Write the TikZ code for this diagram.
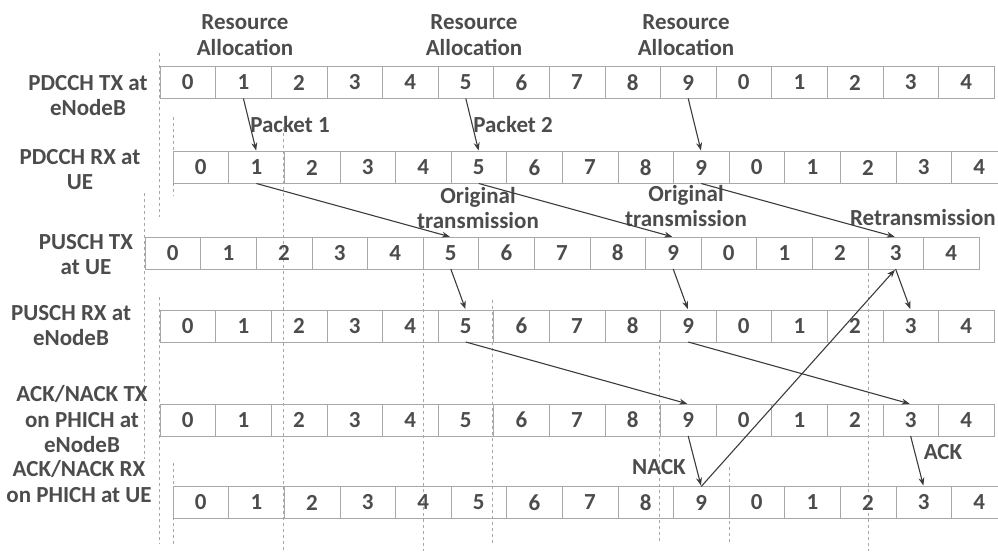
\documentclass[tikz,border=0pt]{standalone}
\usepackage{fontspec}
\setmainfont{Carlito}[Numbers=Lining]
\usetikzlibrary{arrows.meta,positioning}

\definecolor{txt}{HTML}{4C4C4C}
\definecolor{rulec}{HTML}{A8A8A8}
\definecolor{arrowc}{HTML}{3C3C3C}

\begin{document}
\begin{tikzpicture}[x=1pt,y=-1pt,->,>={Stealth[length=8pt,width=6pt]},shorten >=1pt,auto,semithick,
    font=\fontsize{23}{25.5}\selectfont\bfseries,text=txt]
	\tikzstyle{cell}=[draw=rulec,thin,minimum width=55.6pt,minimum height=32pt,inner sep=0pt,outer sep=0pt]
	\tikzstyle{lbl}=[align=center,inner sep=0pt]
	\tikzstyle{guide}=[-,draw=rulec,thin,dash pattern=on 3pt off 3pt]
	\tikzstyle{every edge}=[draw,arrowc,line width=1.1pt]

	\useasboundingbox (0,0) rectangle (998,552);
	\clip (0,0) rectangle (998,552);

	% dashed guides
	\foreach \gx/\ga/\gb in {159/53/218, 173/117/197, 144/193/460, 159/297/545, 173/463/545,
	    283/127/552, 423/237/552, 492/300/547, 659/340/545, 729/467/545, 868/237/552}
		\draw[guide] (\gx,\ga) -- (\gx,\gb);

	% subframe rows
	\foreach \row/\x/\y in {pdtx/160/82.5, pdrx/173/167.5, putx/145/253,
	    purx/160/326, hitx/160/420, hirx/173/502.5} {
		\node[cell] (\row-0) at (\x+27.8,\y) {0};
		\foreach \i [remember=\i as \k (initially 0)] in {1,...,14} {
			\pgfmathtruncatemacro{\j}{mod(\i,10)}
			\node[cell] (\row-\i) [right = 0pt of \row-\k] {\j};
		}
	}

	% row names
	\node[lbl] (n-pdtx) at (88,95.5) {PDCCH TX at\\eNodeB};
	\node[lbl] (n-pdrx) at (80,169.5) {PDCCH RX at\\UE};
	\node[lbl] (n-putx) at (86,254.5) {PUSCH TX\\at UE};
	\node[lbl] (n-purx) at (71,325.5) {PUSCH RX at\\eNodeB};
	\node[lbl] (n-hitx) at (82,419.5) {ACK/NACK TX\\on PHICH at\\eNodeB};
	\node[lbl] (n-hirx) at (79,481.5) {ACK/NACK RX\\on PHICH at UE};

	% annotations
	\node[lbl] (ra1) at (245,35) {Resource\\Allocation};
	\node[lbl] (ra2) at (474,35) {Resource\\Allocation};
	\node[lbl] (ra3) at (686,35) {Resource\\Allocation};
	\node[lbl,anchor=west] (pk1) at (250,125) {Packet 1};
	\node[lbl,anchor=west] (pk2) at (473,125) {Packet 2};
	\node[lbl] (ot1) at (478,208) {Original\\transmission};
	\node[lbl] (ot2) at (686,206) {Original\\transmission};
	\node[lbl,anchor=east] (rt) at (996,218) {Retransmission};
	\node[lbl] (nack) at (659,467) {NACK};
	\node[lbl] (ack) at (943,452) {ACK};

	\path (pdtx-1.south) edge (pdrx-1.north);
	\path (pdtx-5.south) edge (pdrx-5.north);
	\path (pdtx-9.south) edge (pdrx-9.north);
	\path (pdrx-1.south) edge (putx-5.north);
	\path (pdrx-5.south) edge (putx-9.north);
	\path (pdrx-9.south) edge (putx-13.north);
	\path (putx-5.south) edge (purx-5.north);
	\path (putx-9.south) edge (purx-9.north);
	\path (putx-13.south) edge (purx-13.north);
	\path (purx-5.south) edge (hitx-9.north);
	\path (purx-9.south) edge (hitx-13.north);
	\path (hitx-9.south) edge (hirx-9.north);
	\path (hirx-9.north) edge (putx-13.south);
	\path (hitx-13.south) edge (hirx-13.north);
\end{tikzpicture}
\end{document}
